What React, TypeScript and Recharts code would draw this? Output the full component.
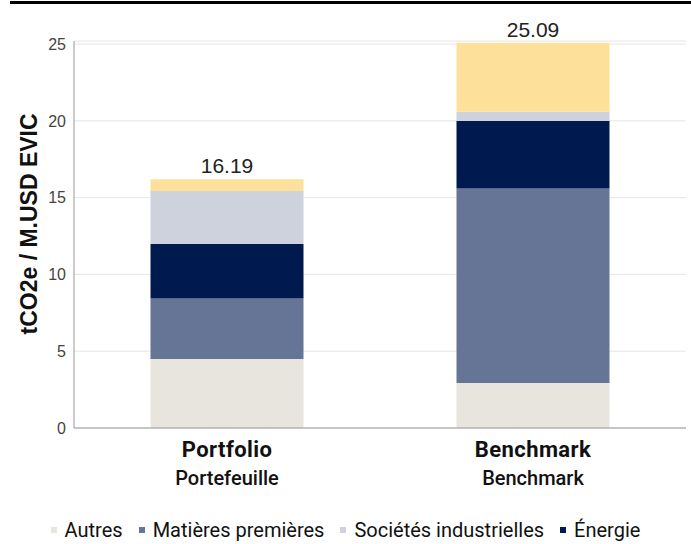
import { BarChart, Bar, XAxis, YAxis, CartesianGrid, LabelList } from "recharts";

const categories = ["Portfolio", "Benchmark"];
const subLabels = ["Portefeuille", "Benchmark"];
const autres = [4.49, 2.93];
const matieres = [3.94, 12.66];
const energie = [3.55, 4.4];
const societes = [3.45, 0.61];
const services = [0.76, 4.49];
const totals = [16.19, 25.09];
const yTicks = [0, 5, 10, 15, 20, 25];

const series = [
  { key: "autres", name: "Autres", color: "#e8e5df", values: autres },
  { key: "matieres", name: "Matières premières", color: "#667595", values: matieres },
  { key: "energie", name: "Énergie", color: "#001a4f", values: energie },
  { key: "societes", name: "Sociétés industrielles", color: "#cdd2dd", values: societes },
  { key: "services", name: "Services aux collectivités", color: "#fde19a", values: services },
];

const legendOrder = ["autres", "matieres", "societes", "energie"];

const rows = categories.map((c, i) => {
  const r: Record<string, string | number> = { cat: c, sub: subLabels[i], total: totals[i] };
  series.forEach((s) => (r[s.key] = s.values[i]));
  return r;
});

const franklin = "Roboto, 'Noto Sans', sans-serif";
const sans = "'Liberation Sans', Arial, sans-serif";

function CatTick(props: any) {
  const { x, y, payload } = props;
  const i = categories.indexOf(payload.value);
  return (
    <g transform={`translate(${x},${y})`}>
      <text x={0} y={21} textAnchor="middle" fontFamily={franklin} fontWeight="bold" fontSize={22} letterSpacing={0.4} fill="#111">
        {payload.value}
      </text>
      <text x={0} y={49} textAnchor="middle" fontFamily={franklin} fontWeight={500} fontSize={20} fill="#111">
        {subLabels[i]}
      </text>
    </g>
  );
}

function LegendBox() {
  return (
    <div
      style={{
        position: "absolute",
        top: 518,
        left: 0,
        width: 691,
        display: "flex",
        justifyContent: "center",
        gap: 16,
        fontFamily: franklin,
        fontSize: 20,
        color: "#111",
      }}
    >
      {legendOrder.map((k) => {
        const s = series.find((x) => x.key === k)!;
        return (
          <span key={k} style={{ display: "flex", alignItems: "center" }}>
            <span style={{ width: 6, height: 6, background: s.color, marginRight: 8, display: "inline-block" }} />
            {s.name}
          </span>
        );
      })}
    </div>
  );
}

export default function App() {
  return (
    <div style={{ position: "absolute", left: 0, top: 0, width: 691, height: 544, background: "#fff" }}>
      <div style={{ position: "absolute", left: 10, top: 1, width: 681, height: 3, background: "#000" }} />
      <BarChart
        width={691}
        height={544}
        data={rows}
        margin={{ top: 41, right: 5, bottom: 116 - 70, left: 0 }}
        barCategoryGap="25%"
      >
        <CartesianGrid vertical={false} stroke="#e6e6e6" />
        <XAxis dataKey="cat" height={70} tickLine={false} stroke="#999" tick={<CatTick />} interval={0} />
        <YAxis
          width={74}
          domain={[0, 25.2]}
          ticks={yTicks}
          tickLine={false}
          stroke="#999"
          tick={{ fill: "#444", fontSize: 16, fontFamily: sans }}
          label={{
            value: "tCO2e / M.USD EVIC",
            angle: -90,
            position: "insideLeft",
            dx: 24,
            dy: 100,
            style: { fontFamily: sans, fontWeight: "bold", fontSize: 23, fill: "#111" },
          }}
        />
        {series.map((s, idx) => (
          <Bar key={s.key} dataKey={s.key} name={s.name} stackId="a" fill={s.color} isAnimationActive={false}>
            {idx === series.length - 1 && (
              <LabelList
                dataKey="total"
                position="top"
                offset={6}
                style={{ fontFamily: sans, fontSize: 21, fill: "#222" }}
                formatter={(v: any) => Number(v).toFixed(2)}
              />
            )}
          </Bar>
        ))}
      </BarChart>
      <LegendBox />
    </div>
  );
}
